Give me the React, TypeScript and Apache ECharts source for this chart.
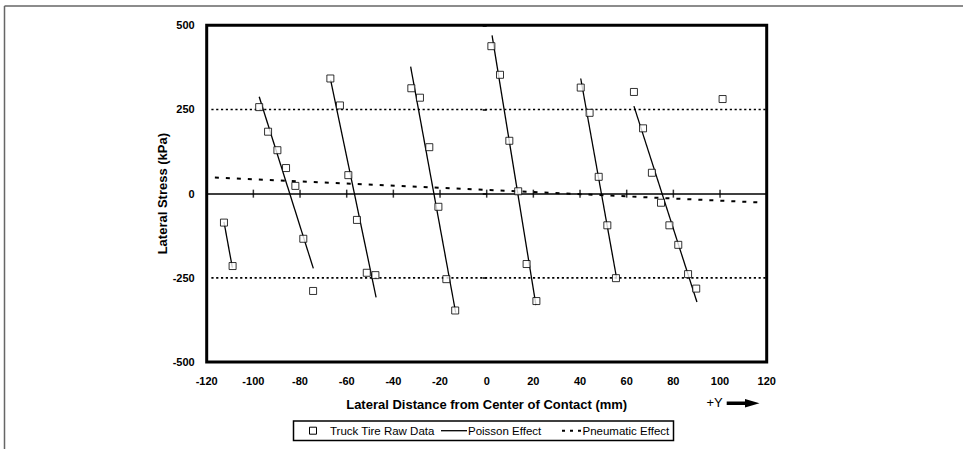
import React, { useEffect, useRef } from "react";
import * as echarts from "echarts";

// ---- Data ----
const rawTruckTire: [number, number][] = [
  [-112.6, -86], [-108.9, -215],
  [-97.5, 257], [-93.7, 184], [-89.7, 129], [-86, 76], [-82, 23], [-78.6, -134], [-74.4, -289],
  [-67, 342], [-62.9, 262], [-59.3, 55], [-55.6, -78], [-51.4, -235], [-47.7, -242],
  [-32.3, 313], [-28.6, 285], [-24.6, 138], [-20.7, -39], [-17.3, -254], [-13.5, -347],
  [2.0, 438], [5.7, 353], [9.7, 157], [13.5, 7], [17.1, -209], [21.3, -319],
  [40.3, 315], [44.1, 240], [48, 50], [51.7, -94], [55.4, -251],
  [63.1, 302], [67, 194], [70.8, 62], [74.7, -27], [78.3, -94], [82.1, -152], [86.3, -239], [89.8, -282],
  [101.1, 281],
];

const poissonSegments: [number, number][][] = [
  [[-112.6, -84], [-109, -220]],
  [[-97.5, 288], [-74.3, -222]],
  [[-66.9, 338], [-47.4, -308]],
  [[-32.6, 377], [-13.3, -353]],
  [[2.3, 470], [21.1, -331]],
  [[40.3, 342], [55.7, -252]],
  [[63.1, 260], [90.1, -322]],
];

const pneumaticLine: [number, number][] = [[-116.5, 48], [116.5, -26]];

const referenceLevels = [250, -250];
const referenceStartX = -118;

const xMin = -120;
const xMax = 120;
const xStep = 20;
const yMin = -500;
const yMax = 500;
const yStep = 250;
const zeroLineTicks = [-100, -80, -60, -40, -20, 0, 20, 40, 60, 80, 100];

const xTitle = "Lateral Distance from Center of Contact (mm)";
const yTitle = "Lateral Stress (kPa)";
const directionLabel = "+Y";
const legendNames = ["Truck Tire Raw Data", "Poisson Effect", "Pneumatic Effect"];

const FONT = "'Liberation Sans', Arial, Helvetica, sans-serif";

export default function App() {
  const ref = useRef<HTMLDivElement>(null);

  useEffect(() => {
    if (!ref.current) return;
    const chart = echarts.init(ref.current, undefined, { renderer: "svg" });

    const gridLeft = 206.7;
    const gridTop = 25.3;
    const gridW = 560;
    const gridH = 336.7;

    const series: any[] = [];

    referenceLevels.forEach((lvl) => {
      series.push({
        type: "line",
        name: "ref" + lvl,
        data: [[referenceStartX, lvl], [xMax, lvl]],
        symbol: "none",
        silent: true,
        lineStyle: { color: "#000", width: 1.6, type: [2.2, 2.6] },
        z: 2,
      });
    });

    series.push({
      type: "line",
      name: legendNames[2],
      data: pneumaticLine,
      symbol: "none",
      lineStyle: { color: "#000", width: 2, type: [4, 7] },
      z: 3,
    });

    poissonSegments.forEach((seg) => {
      series.push({
        type: "line",
        name: legendNames[1],
        data: seg,
        symbol: "none",
        lineStyle: { color: "#000", width: 1.3 },
        z: 4,
      });
    });

    series.push({
      type: "scatter",
      name: "zeroTicks",
      data: zeroLineTicks.map((x) => [x, 0]),
      symbol: "rect",
      symbolSize: [1.5, 8],
      itemStyle: { color: "#000" },
      silent: true,
      z: 3,
    });

    series.push({
      type: "scatter",
      name: legendNames[0],
      data: rawTruckTire,
      symbol: "rect",
      symbolSize: 7,
      itemStyle: { color: "#fff", borderColor: "#000", borderWidth: 1 },
      z: 6,
    });

    const legendY = 430.7;
    const arrowY = 403.3;
    const legendFont = 11.5;

    chart.setOption({
      animation: false,
      backgroundColor: "#fff",
      textStyle: { fontFamily: FONT },
      grid: {
        left: gridLeft,
        top: gridTop,
        width: gridW,
        height: gridH,
        show: true,
        borderColor: "#000",
        borderWidth: 3,
        backgroundColor: "#fff",
        containLabel: false,
      },
      xAxis: [
        {
          type: "value",
          min: xMin,
          max: xMax,
          interval: xStep,
          position: "bottom",
          axisLine: { show: false, onZero: false },
          axisTick: { show: false },
          splitLine: { show: false },
          axisLabel: {
            color: "#000",
            fontWeight: "bold",
            fontSize: 11,
            fontFamily: FONT,
            margin: 13,
          },
        },
        {
          type: "value",
          min: xMin,
          max: xMax,
          interval: xStep,
          position: "top",
          axisLine: { show: true, onZero: true, lineStyle: { color: "#000", width: 1.5 } },
          axisTick: { show: false },
          splitLine: { show: false },
          axisLabel: { show: false },
        },
      ],
      yAxis: {
        type: "value",
        min: yMin,
        max: yMax,
        interval: yStep,
        axisLine: { show: false },
        axisTick: { show: true, length: 4, lineStyle: { color: "#000", width: 1.5 } },
        splitLine: { show: false },
        axisLabel: {
          color: "#000",
          fontWeight: "bold",
          fontSize: 11,
          fontFamily: FONT,
          margin: 12,
        },
      },
      series,
      graphic: [
        // outer frame (top and left edges)
        { type: "line", shape: { x1: 4.5, y1: 6, x2: 963, y2: 6 }, style: { stroke: "#666", lineWidth: 1.5 }, silent: true },
        { type: "line", shape: { x1: 4.5, y1: 6, x2: 4.5, y2: 449 }, style: { stroke: "#666", lineWidth: 1.5 }, silent: true },
        // axis titles
        {
          type: "text",
          x: gridLeft + gridW / 2,
          y: 404,
          style: { text: xTitle, fontFamily: FONT, fontWeight: "bold", fontSize: 13, fill: "#000", align: "center", verticalAlign: "middle" },
        },
        {
          type: "text",
          x: 162,
          y: gridTop + gridH / 2,
          rotation: Math.PI / 2,
          style: { text: yTitle, fontFamily: FONT, fontWeight: "bold", fontSize: 13, fill: "#000", align: "center", verticalAlign: "middle" },
        },
        // +Y arrow
        {
          type: "text",
          x: 706.5,
          y: 402,
          style: { text: directionLabel, fontFamily: FONT, fontSize: 13, fill: "#000", align: "left", verticalAlign: "middle" },
        },
        {
          type: "polygon",
          shape: {
            points: [
              [726.7, arrowY - 1.7], [745, arrowY - 1.7], [745, arrowY - 4.2], [759.5, arrowY],
              [745, arrowY + 4.2], [745, arrowY + 1.7], [726.7, arrowY + 1.7],
            ],
          },
          style: { fill: "#000" },
        },
        // legend
        {
          type: "rect",
          shape: { x: 293.5, y: 421, width: 380, height: 19.5 },
          style: { fill: "#fff", stroke: "#000", lineWidth: 1.5 },
        },
        {
          type: "rect",
          shape: { x: 309.5, y: legendY - 3.5, width: 7, height: 7 },
          style: { fill: "#fff", stroke: "#000", lineWidth: 1 },
        },
        {
          type: "text",
          x: 330,
          y: legendY,
          style: { text: legendNames[0], fontFamily: FONT, fontSize: legendFont, fill: "#000", align: "left", verticalAlign: "middle" },
        },
        { type: "line", shape: { x1: 441, y1: legendY, x2: 467, y2: legendY }, style: { stroke: "#000", lineWidth: 1.3 } },
        {
          type: "text",
          x: 468,
          y: legendY,
          style: { text: legendNames[1], fontFamily: FONT, fontSize: legendFont, fill: "#000", align: "left", verticalAlign: "middle" },
        },
        {
          type: "line",
          shape: { x1: 562, y1: legendY, x2: 581, y2: legendY },
          style: { stroke: "#000", lineWidth: 2, lineDash: [3, 5] },
        },
        {
          type: "text",
          x: 582.5,
          y: legendY,
          style: { text: legendNames[2], fontFamily: FONT, fontSize: legendFont, fill: "#000", align: "left", verticalAlign: "middle" },
        },
      ],
    });

    return () => {
      chart.dispose();
    };
  }, []);

  return (
    <div
      ref={ref}
      style={{ position: "fixed", left: 0, top: 0, width: 963, height: 449, background: "#fff" }}
    />
  );
}
